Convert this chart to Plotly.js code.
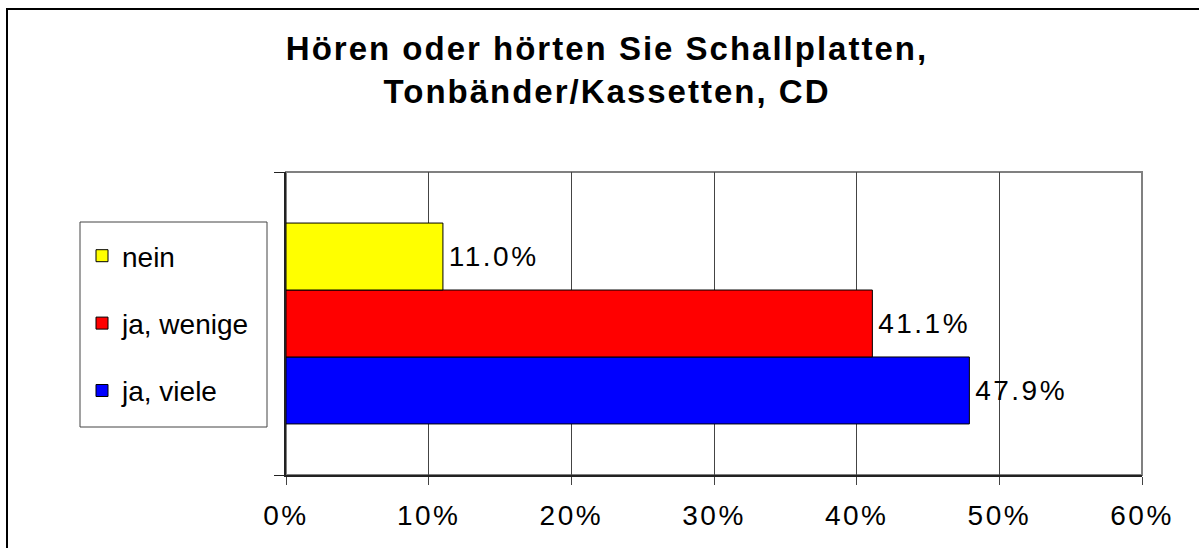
<!DOCTYPE html>
<html>
<head>
<meta charset="utf-8">
<script src="https://cdn.plot.ly/plotly-3.0.1.min.js"></script>
<style>
html,body{margin:0;padding:0;background:#fff;overflow:hidden;}
#chart{width:1199px;height:548px;}
#chart .gtitle{letter-spacing:2px;}
#chart .xtick text{letter-spacing:2.5px;}
#chart .bartext{letter-spacing:2.5px;}
</style>
</head>
<body>
<div id="chart"></div>
<script>
// Data
const seriesNames = ["ja, viele", "ja, wenige", "nein"];
const seriesValues = [0.479, 0.411, 0.110];
const seriesColors = ["#0000FF", "#FF0000", "#FFFF00"];
const legendRanks = [3, 2, 1];
const xTickValues = [0, 0.1, 0.2, 0.3, 0.4, 0.5, 0.6];
const xTickLabels = ["0%", "10%", "20%", "30%", "40%", "50%", "60%"];
const titleText = "Hören oder hörten Sie Schallplatten,<br>Tonbänder/Kassetten, CD";

const W = 1199, H = 548;
const L = 286, R = 1142, T = 172, B = 475;
const pw = R - L, ph = B - T;
const px = v => (v - L) / pw;
const py = v => (B - v) / ph;

const font = "Arial, 'Liberation Sans', sans-serif";

const traces = seriesNames.map((name, i) => ({
  type: "bar",
  orientation: "h",
  name: name,
  legendgroup: "g" + legendRanks[i],
  legendrank: legendRanks[i],
  x: [seriesValues[i]],
  y: [0],
  marker: {color: seriesColors[i], line: {color: "#000", width: 1}},
  text: ["\u00a0" + (seriesValues[i] * 100).toFixed(1) + "%"],
  textposition: "outside",
  textfont: {family: font, size: 28, color: "#000"},
  cliponaxis: false,
  hoverinfo: "none"
}));

const layout = {
  width: W, height: H,
  margin: {l: L, r: W - R, t: T, b: H - B, pad: 0},
  paper_bgcolor: "#fff",
  plot_bgcolor: "#fff",
  font: {family: font, color: "#000"},
  title: {
    text: titleText,
    font: {family: font, size: 33, color: "#000", weight: "bold"},
    x: 607 / W, xanchor: "center",
    y: 1 - 60 / H, yanchor: "top", yref: "container"
  },
  barmode: "group",
  bargap: 0.337,
  bargroupgap: 0,
  showlegend: true,
  legend: {
    x: px(82), xanchor: "left",
    y: py(231), yanchor: "top",
    traceorder: "grouped",
    tracegroupgap: 28,
    bgcolor: "rgba(0,0,0,0)",
    borderwidth: 0,
    font: {family: font, size: 28, color: "#000"}
  },
  xaxis: {
    range: [0, 0.6],
    tickvals: xTickValues,
    ticktext: xTickLabels,
    ticks: "outside", ticklen: 8, tickwidth: 1, tickcolor: "#444",
    showgrid: true, gridcolor: "#444", gridwidth: 1,
    showline: true, linecolor: "#222", linewidth: 2,
    zeroline: false,
    tickfont: {family: font, size: 28, color: "#000"},
    ticklabelstandoff: 6,
    fixedrange: true
  },
  yaxis: {
    range: [-0.5, 0.5],
    tickvals: [-0.5, 0.5],
    ticktext: ["", ""],
    ticks: "outside", ticklen: 10, tickwidth: 1, tickcolor: "#222",
    showgrid: false,
    showline: true, linecolor: "#222", linewidth: 2,
    zeroline: false,
    fixedrange: true
  },
  shapes: [
    {type: "rect", xref: "paper", yref: "paper", x0: 0, x1: 1, y0: 0, y1: 1,
     line: {color: "#808080", width: 2}, fillcolor: "rgba(0,0,0,0)", layer: "below"},
    {type: "rect", xref: "paper", yref: "paper", x0: px(80), x1: px(267), y0: py(427), y1: py(222),
     line: {color: "#444", width: 1}, fillcolor: "rgba(0,0,0,0)", layer: "below"},
    {type: "rect", xref: "paper", yref: "paper", x0: px(7), x1: px(1260), y0: py(600), y1: py(9),
     line: {color: "#000", width: 2}, fillcolor: "rgba(0,0,0,0)", layer: "below"}
  ]
};

Plotly.newPlot("chart", traces, layout, {displayModeBar: false, staticPlot: true});
</script>
</body>
</html>
